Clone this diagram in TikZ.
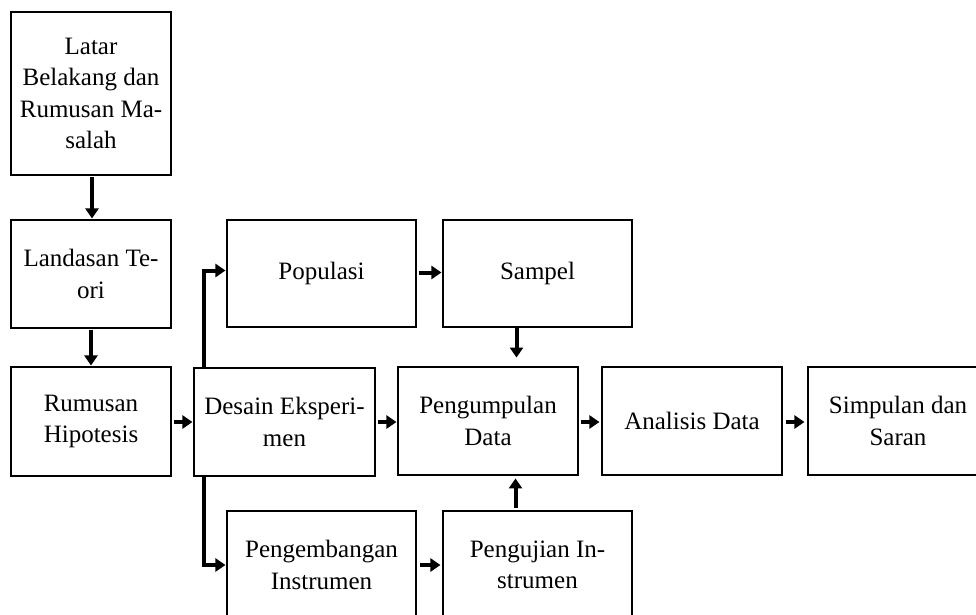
\documentclass[tikz,border=0pt]{standalone}
\usepackage{fontspec}
\setmainfont{Liberation Serif}
\usetikzlibrary{arrows.meta,calc}
\begin{document}
\begin{tikzpicture}[x=1pt,y=-1pt,
  box/.style={draw=black,line width=1.1pt,rectangle,inner sep=0pt,align=center,
    font=\fontsize{25}{31.5}\selectfont},
  flow/.style={line width=4pt,-{Triangle[length=10pt,width=13pt]}}]
\useasboundingbox (0,0) rectangle (976,614);
\clip (0,0) rectangle (976,614);
\fill[white] (0,0) rectangle (976,614);
\node[box,minimum width=160pt,minimum height=163pt] (latar) at (91,93.5) {Latar\\Belakang dan\\Rumusan Ma-\\salah};
\node[box,minimum width=160pt,minimum height=108pt] (landasan) at (91,274) {Landasan Te-\\ori};
\node[box,minimum width=160pt,minimum height=109pt] (rumusan) at (91,421.5) {Rumusan\\Hipotesis};
\node[box,minimum width=181pt,minimum height=108pt] (desain) at (284.5,422) {Desain Eksperi-\\men};
\node[box,minimum width=189pt,minimum height=107pt] (populasi) at (321.5,273.5) {Populasi};
\node[box,minimum width=189pt,minimum height=107pt] (sampel) at (537.5,273.5) {Sampel};
\node[box,minimum width=180pt,minimum height=108pt] (kumpul) at (488,421) {Pengumpulan\\Data};
\node[box,minimum width=180pt,minimum height=108pt] (analisis) at (692,421) {Analisis Data};
\node[box,minimum width=180pt,minimum height=108pt] (simpulan) at (898,421) {Simpulan dan\\Saran};
\node[box,minimum width=189pt,minimum height=108pt] (kembang) at (321.5,565) {Pengembangan\\Instrumen};
\node[box,minimum width=189pt,minimum height=108pt] (uji) at (537.5,565) {Pengujian In-\\strumen};

\draw[flow] ($(latar.south)+(1,1)$) -- ($(landasan.north)+(1,-1)$);
\draw[flow] ($(landasan.south)+(0,1)$) -- ($(rumusan.north)+(0,-1)$);
\draw[flow] ($(rumusan.east)+(2,0.5)$) -- ($(desain.west)+(-1,0)$);
\coordinate (dtop) at ($(desain.north west)+(11,0)$);
\coordinate (dbot) at ($(desain.south west)+(11,0)$);
\draw[flow] (dtop) |- ($(populasi.west)+(-1,-3)$);
\draw[flow] (dbot) |- ($(kembang.west)+(-1,0)$);
\draw[flow] ($(desain.east)+(2,0)$) -- ($(kumpul.west)+(-1,1)$);
\draw[flow] ($(populasi.east)+(2,-1)$) -- ($(sampel.west)+(-1,-1)$);
\coordinate (ss) at ($(sampel.south)+(-21,0)$);
\draw[flow] (ss) -- ($(ss)+(0,30)$);
\coordinate (us) at ($(uji.north)+(-22,-2)$);
\draw[flow] (us) -- ($(us)+(0,-30)$);
\draw[flow] ($(kembang.east)+(3,0)$) -- ($(uji.west)+(-2,0)$);
\draw[flow] ($(kumpul.east)+(2,1)$) -- ($(analisis.west)+(-2,1)$);
\draw[flow] ($(analisis.east)+(3,1)$) -- ($(simpulan.west)+(-3,1)$);
\end{tikzpicture}
\end{document}
